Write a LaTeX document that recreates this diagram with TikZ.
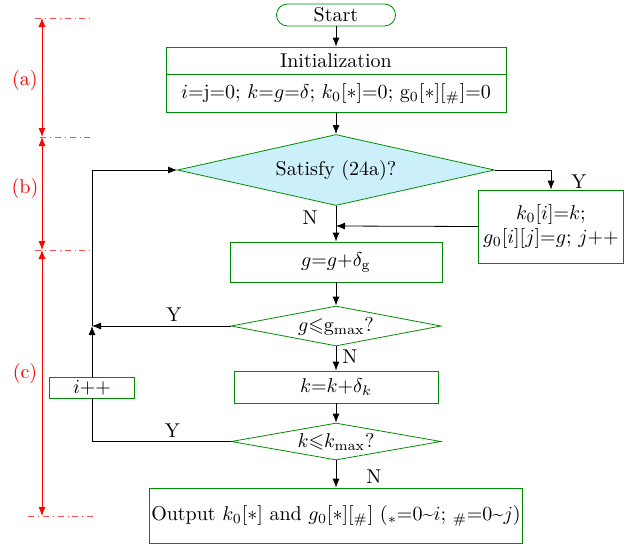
\documentclass[tikz,border=0pt]{standalone}
\usepackage{amsmath}
\usepackage{amssymb}
\usepackage{tikz}
\usetikzlibrary{shapes.geometric,arrows.meta}

\begin{document}
\begin{tikzpicture}[x=0.5pt, y=-0.5pt, >={Latex[length=4.5pt,width=3.5pt]},
  box/.style={draw=green!55!black, fill=white, inner sep=1pt, align=center},
  cond/.style={diamond, draw=green!55!black, aspect=5, inner sep=0pt},
  lbl/.style={inner sep=1pt}]
\useasboundingbox (0,0) rectangle (642,546);
\node[box, rounded corners=5.5pt, minimum width=59.5pt, minimum height=11pt] (start) at (336,15) {Start};
\node[box, minimum width=170pt, minimum height=13.5pt] (init) at (336,60.5) {Initialization};
\node[box, minimum width=170pt, minimum height=19pt] (initv) at (336,93.5) {$i{=}\mathrm{j}{=}0$; $k{=}g{=}\mathrm{\delta}$; $k_0[*]{=}0$; $\mathrm{g}_0[*][_\#]{=}0$};
\node[cond, fill=cyan!20, minimum width=158.5pt, minimum height=35.5pt] (sat) at (336,170) {Satisfy (24a)?};
\node[box, minimum width=72.5pt, minimum height=36.5pt] (upd) at (551,226.5) {$k_0[i]{=}k$;\\ $g_0[i][j]{=}g$; $j{+}{+}$};
\node[box, minimum width=106pt, minimum height=20pt] (gstep) at (336,262) {$g{=}g{+}\delta_{\mathrm{g}}$};
\node[cond, minimum width=105pt, minimum height=20pt] (gdia) at (336,326) {$g{\leqslant}\mathrm{g}_{\max}$?};
\node[box, minimum width=102pt, minimum height=16pt] (kstep) at (336,387) {$k{=}k{+}\delta_k$};
\node[cond, minimum width=105pt, minimum height=18.5pt] (kdia) at (336,441.5) {$k{\leqslant}k_{\max}$?};
\node[box, minimum width=42.5pt, minimum height=10.5pt] (iinc) at (92,387.5) {$i{+}{+}$};
\node[box, minimum width=186.5pt, minimum height=27.5pt] (out) at (336,515.5) {Output $k_0[*]$ and $g_0[*][_\#]$ (${}_*{=}0$\textasciitilde$i$; ${}_\#{=}0$\textasciitilde$j$)};
\coordinate (back) at (336,226);
\coordinate (jn) at (92,326);

\draw[->] (start) -- (init);
\draw[->] (initv) -- (sat);
\draw[->] (sat.east) -| (upd.north) node[lbl, pos=0.8, right=9pt] {Y};
\draw[->] (upd.west) -- (back);
\draw[->] (sat.south) -- (gstep.north) node[lbl, pos=0.33, left=8pt] {N};
\draw[->] (gstep) -- (gdia);
\draw[->] (gdia.west) -- (jn) node[lbl, pos=0.41, above=1pt] {Y};
\draw[->] (gdia.south) -- (kstep.north) node[lbl, pos=0.44, right=2pt] {N};
\draw[->] (kstep) -- (kdia);
\draw (kdia.west) -| (iinc.south) node[lbl, pos=0.21, above=1pt] {Y};
\draw[->] (iinc.north) -- (jn);
\draw[->] (jn) |- (sat.west);
\draw[->] (kdia.south) -- (out.north) node[lbl, pos=0.6, right=14pt] {N};

\draw[red!70, thin, dash dot] (35,18) -- (93,18);
\draw[red!70, thin, dash dot] (40,137) -- (93,137);
\draw[red!70, thin, dash dot] (35,250) -- (93,250);
\draw[red!70, thin, dash dot] (28,516) -- (93,516);
\draw[red, <->] (42,18) -- (42,137);
\draw[red, <->] (42,137) -- (42,250);
\draw[red, <->] (42,250) -- (42,516);
\node[red] (la) at (25,80) {(a)};
\node[red] (lb) at (25,188) {(b)};
\node[red] (lc) at (25,373) {(c)};
\end{tikzpicture}
\end{document}
